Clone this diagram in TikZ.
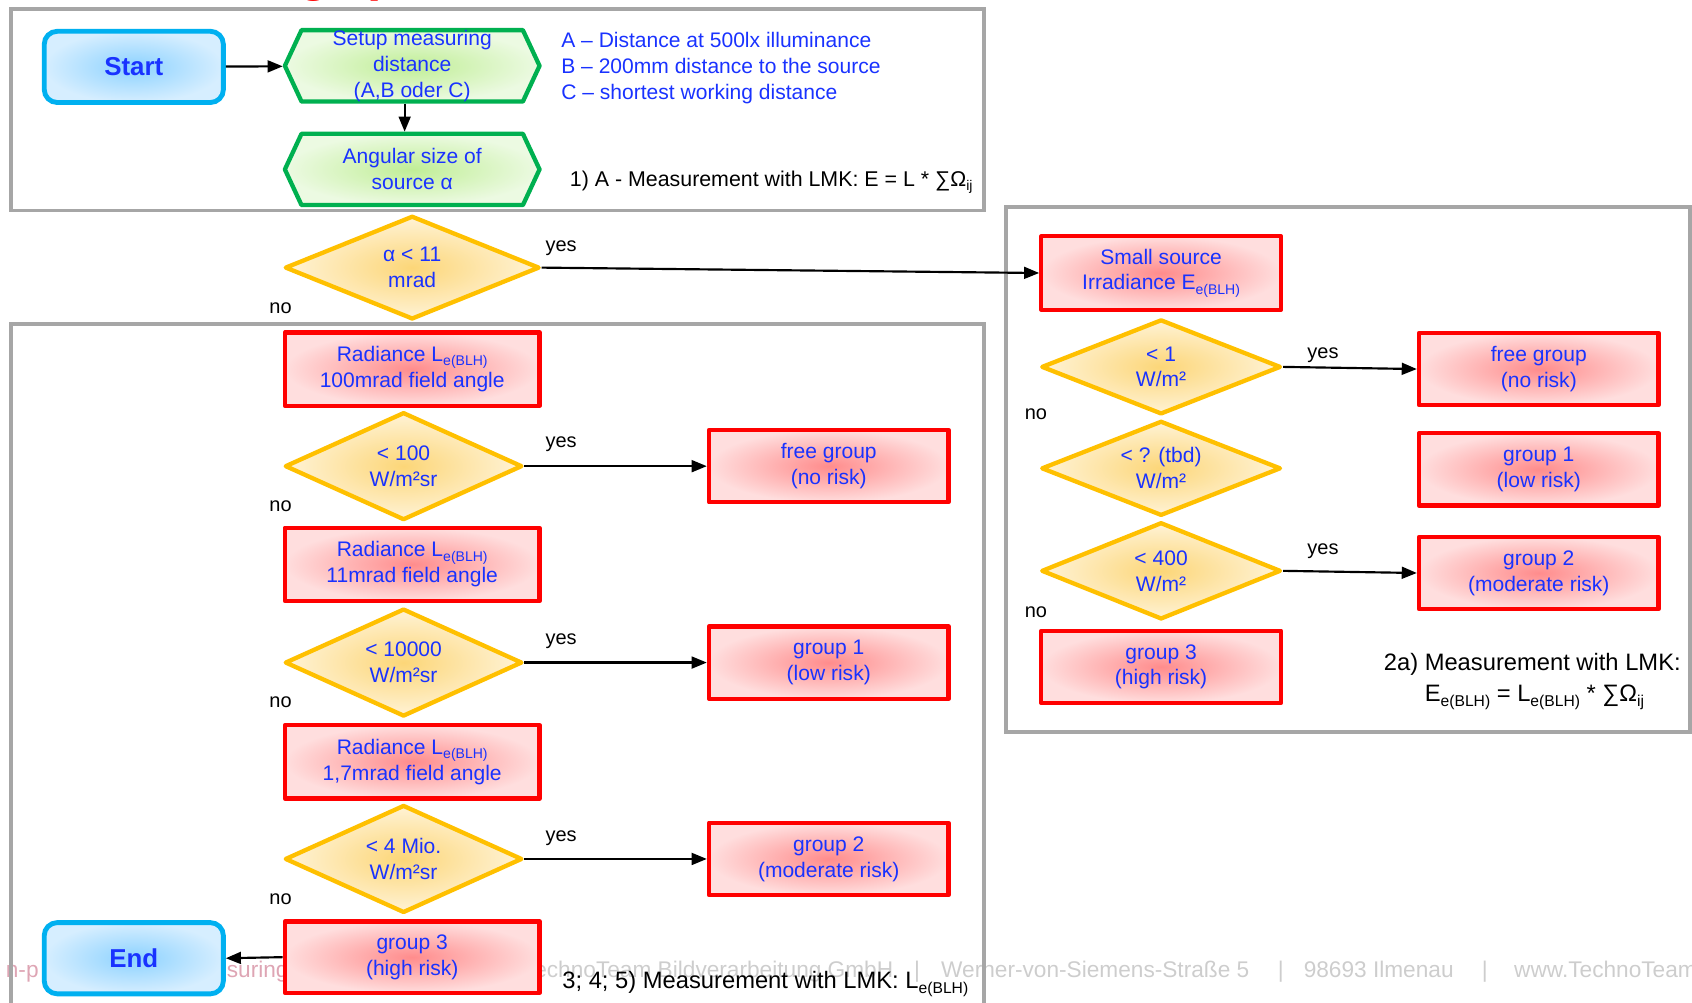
\documentclass[tikz,border=0pt]{standalone}
\usepackage{fontspec}
\setmainfont{Liberation Sans}
\usetikzlibrary{shapes.geometric,shapes.symbols,arrows.meta}

\definecolor{tblue}{RGB}{25,50,255}
\definecolor{frgray}{RGB}{166,166,166}
\definecolor{rborder}{RGB}{255,0,0}
\definecolor{rin}{RGB}{255,140,140}
\definecolor{rout}{RGB}{255,222,222}
\definecolor{yborder}{RGB}{255,192,0}
\definecolor{yin}{RGB}{252,214,120}
\definecolor{yout}{RGB}{255,243,214}
\definecolor{gborder}{RGB}{0,176,80}
\definecolor{gin}{RGB}{192,238,150}
\definecolor{gout}{RGB}{236,250,226}
\definecolor{bborder}{RGB}{0,176,240}
\definecolor{bin}{RGB}{140,210,255}
\definecolor{bout}{RGB}{214,238,255}
\definecolor{wmgray}{RGB}{205,205,205}
\definecolor{wmpink}{RGB}{222,165,180}

\newcommand{\sbx}[1]{\raisebox{-4pt}{\fontsize{13}{13}\selectfont #1}}
\newcommand{\sby}[1]{\raisebox{-4.5pt}{\fontsize{14.5}{14.5}\selectfont #1}}
\newcommand{\ftx}{\fontsize{19.5}{24}\selectfont}

\tikzset{
  redbox/.style={rectangle, draw=rborder, line width=4pt, line join=round,
    inner color=rin, outer color=rout, minimum width=236pt, minimum height=68pt,
    inner sep=0pt, align=center, text=tblue, font=\ftx},
  grpbox/.style={redbox, minimum width=222pt, minimum height=67pt},
  dia/.style={diamond, aspect=2.2, draw=yborder, line width=4pt, line join=round,
    inner color=yin, outer color=yout, minimum width=220pt, minimum height=100pt,
    inner sep=0pt, align=center, text=tblue, font=\ftx},
  rdia/.style={dia, minimum width=222pt, minimum height=88pt},
  hexa/.style={signal, signal to=west and east, signal pointer angle=130,
    draw=gborder, line width=4pt, line join=round, inner color=gin, outer color=gout,
    minimum width=236pt, minimum height=66pt, inner sep=0pt, align=center,
    text=tblue, font=\ftx},
  term/.style={rectangle, rounded corners=12pt, draw=bborder, line width=4.5pt,
    inner color=bin, outer color=bout, minimum width=166pt, minimum height=66pt,
    text=tblue, font=\fontsize{24}{28}\selectfont\bfseries},
  frame/.style={draw=frgray, line width=3.5pt},
  arr/.style={-{Triangle[length=14pt,width=11pt]}, line width=2pt, black},
  lbl/.style={font=\fontsize{18.5}{22}\selectfont, text=black, inner sep=0pt},
  note/.style={font=\ftx, text=black, inner sep=0pt},
  bignote/.style={font=\fontsize{22}{26}\selectfont, text=black, inner sep=0pt},
  wm/.style={font=\fontsize{21}{21}\selectfont, text=wmgray, inner sep=0pt, anchor=base west}
}

\begin{document}
\begin{tikzpicture}[x=1pt,y=-1pt]
\useasboundingbox (0,0) rectangle (1568,929);

% cut-off title and watermark
\node (tg) [anchor=base west, inner sep=0pt, text=red, font=\fontsize{48}{48}\selectfont\bfseries] at (276,-9) {g};
\node (tp) [anchor=base west, inner sep=0pt, text=red, font=\fontsize{48}{48}\selectfont\bfseries] at (340,-9) {p};
\node (wm0) [wm, anchor=base east, text=wmpink] at (36,906) {n-p};
\node (wm1) [wm, text=wmpink] at (210,906) {suring};
\node (wm2) [wm, anchor=base east] at (828,906) {TechnoTeam Bildverarbeitung GmbH};
\node (wm3) [wm] at (847,906) {|};
\node (wm4) [wm] at (872,906) {Werner-von-Siemens-Straße 5};
\node (wm5) [wm] at (1184,906) {|};
\node (wm6) [wm] at (1208,906) {98693 Ilmenau};
\node (wm7) [wm] at (1373,906) {|};
\node (wm8) [wm] at (1403,906) {www.TechnoTeam.de};

% frames
\draw[frame] (10,8) rectangle (912,195);
\draw[frame] (932,192) rectangle (1566,678);
\draw[frame] (10,960) -- (10,300) -- (912,300) -- (912,960);

% top section
\node (start) [term] at (124,62) {Start};
\node (setup) [hexa] at (382,61) {Setup measuring\\distance\\(A,B oder C)};
\node (angular) [hexa] at (382,157) {Angular size of\\source α};
\node (abc) [anchor=west, align=left, inner sep=0pt, text=tblue, font=\ftx] at (520,63)
  {A – Distance at 500lx illuminance\\B – 200mm distance to the source\\C – shortest working distance};
\node (note1) [note, font=\fontsize{19.8}{24}\selectfont, anchor=west] at (528,169) {1) A - Measurement with LMK: E = L * ∑Ω\sbx{ij}};

\node (alpha) [dia, minimum width=236pt, minimum height=96pt] at (382,248) {α < 11\\mrad};
\node (yesA) [lbl] at (520,230) {yes};
\node (noA) [lbl] at (260,286) {no};

% left column
\node (rad1) [redbox] at (382,342) {Radiance L\sbx{e(BLH)}\\100mrad field angle};
\node (d100) [dia] at (374,432) {< 100\\W/m²sr};
\node (free1) [grpbox] at (768,432) {free group\\(no risk)};
\node (yes1) [lbl] at (520,412) {yes};
\node (no1) [lbl] at (260,469) {no};

\node (rad2) [redbox] at (382,523) {Radiance L\sbx{e(BLH)}\\11mrad field angle};
\node (d10k) [dia] at (374,614) {< 10000\\W/m²sr};
\node (g1L) [grpbox] at (768,614) {group 1\\(low risk)};
\node (yes2) [lbl] at (520,594) {yes};
\node (no2) [lbl] at (260,651) {no};

\node (rad3) [redbox] at (382,706) {Radiance L\sbx{e(BLH)}\\1,7mrad field angle};
\node (d4m) [dia] at (374,796) {< 4 Mio.\\W/m²sr};
\node (g2L) [grpbox] at (768,796) {group 2\\(moderate risk)};
\node (yes3) [lbl] at (520,777) {yes};
\node (no3) [lbl] at (260,833) {no};

\node (g3L) [redbox, minimum height=66pt] at (382,887) {group 3\\(high risk)};
\node (end) [term] at (124,888) {End};
\node (note3) [bignote, anchor=west] at (521,912) {3; 4; 5) Measurement with LMK: L\sby{e(BLH)}};

% right column
\node (small) [grpbox, minimum height=68pt] at (1076,253) {Small source\\Irradiance E\sbx{e(BLH)}};
\node (d1) [rdia] at (1076,340) {< 1\\W/m²};
\node (dtbd) [rdia] at (1076,434) {< ? (tbd)\\W/m²};
\node (d400) [rdia, minimum height=90pt] at (1076,529) {< 400\\W/m²};
\node (g3R) [grpbox] at (1076,618) {group 3\\(high risk)};
\node (freeR) [grpbox] at (1426,342) {free group\\(no risk)};
\node (g1R) [grpbox] at (1426,435) {group 1\\(low risk)};
\node (g2R) [grpbox] at (1426,531) {group 2\\(moderate risk)};
\node (yes4) [lbl] at (1226,329) {yes};
\node (no4) [lbl] at (960,384) {no};
\node (yes5) [lbl] at (1226,511) {yes};
\node (no5) [lbl] at (960,567) {no};
\node (note2a) [bignote] at (1420,616) {2a) Measurement with LMK:};
\node (note2b) [bignote] at (1422,646) {E\sby{e(BLH)} = L\sby{e(BLH)} * ∑Ω\sby{ij}};

% connectors
\draw[arr] (start) -- (setup);
\draw[arr] ([xshift=-7pt]setup.south) -- ([xshift=-7pt]angular.north);
\draw[arr] (alpha.east) -- (small.west);
\draw[arr] (d100.east) -- (free1.west);
\draw[arr] (d10k.east) -- (g1L.west);
\draw[arr] (d4m.east) -- (g2L.west);
\draw[arr] (g3L.west) -- (end.east);
\draw[arr] (d1.east) -- (freeR.west);
\draw[arr] (d400.east) -- (g2R.west);
\end{tikzpicture}
\end{document}
